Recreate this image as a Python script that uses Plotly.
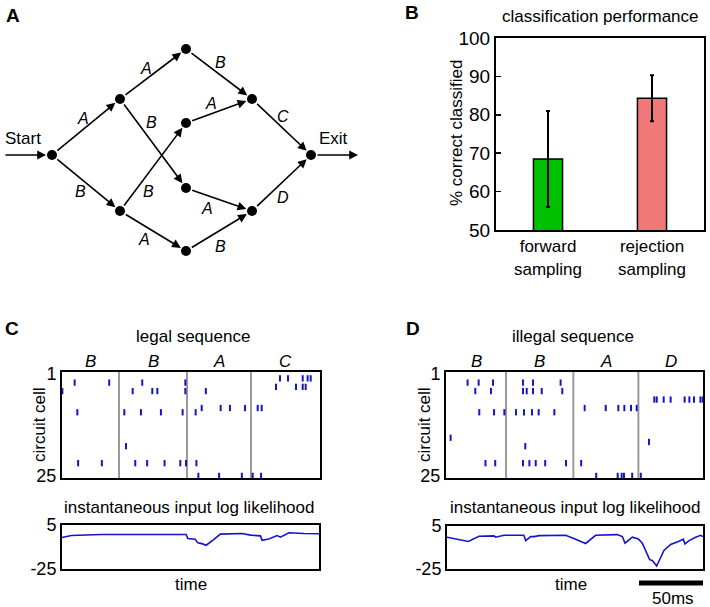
import plotly.graph_objects as go

W, H = 710, 607
FONT = "Liberation Sans, Arial, sans-serif"
BLUE = "#1414cc"

# ---------------- Panel A: state diagram ----------------
node_names = ["S", "UL", "LL", "T", "MU", "ML", "Bo", "RU", "RL", "E"]
node_x = [52, 120, 120, 186, 186, 186, 186, 252, 252, 311]
node_y = [155, 99, 211, 49, 123, 188, 251, 99, 211, 155]
edge_from = ["S", "S", "UL", "UL", "LL", "LL", "T", "MU", "ML", "Bo", "RU", "RL"]
edge_to = ["UL", "LL", "T", "ML", "MU", "Bo", "RU", "RU", "RL", "RL", "E", "E"]
edge_symbol = ["A", "B", "A", "B", "B", "A", "B", "A", "A", "B", "C", "D"]
label_x = [83, 80, 146, 151, 148, 144, 220, 211, 207, 220, 283, 283]
label_y = [118, 191, 68, 122, 191, 239, 62, 103, 208, 246, 116, 197]

# ---------------- Panel B: classification performance ----------------
methods = ["forward<br>sampling", "rejection<br>sampling"]
perf = [68.5, 84.3]
perf_err = [12.5, 6.0]
bar_colors = ["#00c000", "#f07878"]

# ---------------- Panel C: legal sequence raster (time ms, cell) ----------------
c_seq = ["B", "B", "A", "C"]
c_bounds = [0, 44.2, 96.9, 146.5, 200]
c_t = [9.8, 36.6, 62.2, 95.6,
       0.3, 54.8, 70.0, 73.9, 95.6, 111.5,
       108.3, 123.0, 130.2, 141.9, 151.7, 154.8,
       11.9, 48.3, 61.2, 76.7, 93.5, 103.6,
       49.6,
       12.5, 30.9, 56.8, 66.0, 79.5, 91.7, 96.1, 104.2,
       105.7, 121.8, 139.4, 147.8, 154.3,
       169.0, 175.2, 186.6, 190.4, 192.8,
       165.9, 181.4, 186.6, 188.9]
c_cell = [3, 3, 3, 3,
          5, 5, 5, 5, 5, 5,
          9, 9, 9, 9, 9, 9,
          10, 10, 10, 10, 10, 10,
          18,
          22, 22, 22, 22, 22, 22, 22, 22,
          25, 25, 25, 25, 25,
          2, 2, 2, 2, 2,
          4, 4, 4, 4]

# ---------------- Panel D: illegal sequence raster ----------------
d_seq = ["B", "B", "A", "D"]
d_bounds = [0, 46.7, 99.1, 149.7, 200]
d_t = [16.8, 25.4, 36.6, 59.9, 67.7, 89.2,
       22.8, 35.0, 59.9, 62.8, 67.7, 74.5, 90.5,
       25.9, 37.4, 45.4, 54.5, 60.7, 66.9, 72.1, 84.3,
       3.6,
       61.7,
       30.7, 38.3, 59.9, 64.9, 69.8, 77.2, 93.4, 105.2,
       107.9, 124.3, 134.1, 138.8, 144.0, 148.4,
       116.9, 133.6, 136.7, 138.5, 144.9, 151.6,
       158.0,
       162.1, 164.0, 169.4, 174.8, 185.7, 189.4, 193.0, 198.0, 199.8]
d_cell = [3, 3, 3, 3, 3, 3,
          5, 5, 5, 5, 5, 5, 5,
          10, 10, 10, 10, 10, 10, 10, 10,
          16,
          18,
          22, 22, 22, 22, 22, 22, 22, 22,
          9, 9, 9, 9, 9, 9,
          25, 25, 25, 25, 25, 25,
          17,
          7, 7, 7, 7, 7, 7, 7, 7, 7]

# ---------------- Log likelihood traces ----------------
c_ll_t = [0, 7.3, 30.7, 56.8, 75.0, 96.6, 97.9, 103.6, 105.7, 108.9, 112.2, 118.0,
          123.2, 140.1, 146.6, 154.4, 155.7, 160.9, 167.4, 170.0, 176.6, 188.3, 200]
c_ll = [-3.5, -2.2, -1.5, -1.7, -1.5, -1.5, -4.2, -4.7, -7.2, -7.7, -8.8, -4.9,
        -1.2, -0.8, -1.9, -2.4, -5.4, -4.5, -2.2, -3.3, -0.3, -0.8, -1.0]
d_ll_t = [0, 8.1, 16.7, 25.0, 36.7, 38.0, 44.5, 60.0, 61.5, 65.4, 68.0, 71.9, 92.7,
          100.5, 108.3, 116.1, 133.0, 137.0, 139.1, 144.8, 149.5, 152.6, 158.3, 160.4,
          163.8, 169.5, 174.7, 181.3, 184.6, 185.9, 189.1, 194.3, 198.2, 200]
d_ll = [-2.8, -4.2, -5.8, -2.2, -1.9, -2.8, -1.5, -1.5, -5.2, -2.4, -2.4, -1.7, -1.5,
        -4.2, -7.2, -1.5, -1.0, -2.4, -7.0, -2.8, -4.0, -7.0, -18.5, -19.0,
        -22.9, -12.1, -7.9, -5.6, -4.2, -7.5, -5.2, -2.9, -1.5, -2.4]
scale_ms = 50


def px(x):
    return x / W


def py(y):
    return 1 - y / H


fig = go.Figure()
annotations = []
shapes = []

# ---- Panel A ----
pos = {n: (x, y) for n, x, y in zip(node_names, node_x, node_y)}
fig.add_trace(go.Scatter(x=node_x, y=node_y, mode="markers", xaxis="x", yaxis="y",
                         marker=dict(size=10, color="black"), hoverinfo="skip"))
arrow_common = dict(xref="x", yref="y", axref="x", ayref="y", text="", showarrow=True,
                    arrowhead=2, arrowsize=1.1, arrowwidth=1.6, arrowcolor="black")
for f, t in zip(edge_from, edge_to):
    (x0, y0), (x1, y1) = pos[f], pos[t]
    annotations.append(dict(x=x1, y=y1, ax=x0, ay=y0, standoff=6, startstandoff=5, **arrow_common))
sx, sy = pos["S"]
ex, ey = pos["E"]
annotations.append(dict(x=sx, y=sy, ax=sx - 48, ay=sy, standoff=6, **arrow_common))
annotations.append(dict(x=ex + 47, y=ey, ax=ex, ay=ey, startstandoff=5, **arrow_common))
for lx, ly, s in zip(label_x, label_y, edge_symbol):
    annotations.append(dict(x=lx, y=ly, xref="x", yref="y", text="<i>%s</i>" % s, showarrow=False,
                            font=dict(size=16, family=FONT, color="black")))
annotations.append(dict(x=sx - 29, y=sy - 17, xref="x", yref="y", text="Start", showarrow=False,
                        font=dict(size=17, family=FONT)))
annotations.append(dict(x=ex + 22, y=ey - 17, xref="x", yref="y", text="Exit", showarrow=False,
                        font=dict(size=17, family=FONT)))

# ---- Panel B ----
fig.add_trace(go.Bar(x=[1, 2], y=perf, xaxis="x2", yaxis="y2", width=0.28,
                     marker=dict(color=bar_colors, line=dict(color="black", width=1.5)),
                     error_y=dict(type="data", array=perf_err, color="black", thickness=2, width=2),
                     hoverinfo="skip"))

# ---- Panel C/D rasters ----
fig.add_trace(go.Scatter(x=c_t, y=c_cell, mode="markers", xaxis="x3", yaxis="y3",
                         marker=dict(symbol="line-ns", size=4.5, line=dict(width=2, color=BLUE)),
                         hoverinfo="skip"))
fig.add_trace(go.Scatter(x=d_t, y=d_cell, mode="markers", xaxis="x5", yaxis="y5",
                         marker=dict(symbol="line-ns", size=4.5, line=dict(width=2, color=BLUE)),
                         hoverinfo="skip"))
fig.add_trace(go.Scatter(x=c_ll_t, y=c_ll, mode="lines", xaxis="x4", yaxis="y4",
                         line=dict(color=BLUE, width=1.6), hoverinfo="skip"))
fig.add_trace(go.Scatter(x=d_ll_t, y=d_ll, mode="lines", xaxis="x6", yaxis="y6",
                         line=dict(color=BLUE, width=1.6), hoverinfo="skip"))

for xa, ya, bounds, seq in [("x3", "y3", c_bounds, c_seq), ("x5", "y5", d_bounds, d_seq)]:
    for b in bounds[1:-1]:
        shapes.append(dict(type="line", xref=xa, yref=ya + " domain", x0=b, x1=b, y0=0, y1=1,
                           line=dict(color="#9a9a9a", width=2), layer="below"))
    for i, s in enumerate(seq):
        annotations.append(dict(x=(bounds[i] + bounds[i + 1]) / 2, y=1, xref=xa, yref=ya + " domain",
                                yshift=11, yanchor="middle", text="<i>%s</i>" % s, showarrow=False,
                                font=dict(size=17, family=FONT)))

# scale bar on D line plot
shapes.append(dict(type="line", xref="x6", yref="paper", x0=200 - scale_ms, x1=200,
                   y0=py(583), y1=py(583), line=dict(color="black", width=5)))

# ---- text annotations (paper) ----
def txt(x, y, s, size=17, angle=0, bold=False, xanchor="center"):
    annotations.append(dict(x=px(x), y=py(y), xref="paper", yref="paper", showarrow=False,
                            text=("<b>%s</b>" % s) if bold else s, textangle=angle,
                            xanchor=xanchor, yanchor="middle",
                            font=dict(size=size, family=FONT, color="black")))

txt(13, 15, "A", 19, bold=True)
txt(412, 13, "B", 19, bold=True)
txt(12, 328, "C", 19, bold=True)
txt(413, 328, "D", 19, bold=True)
txt(600, 17, "classification performance")
txt(456, 133, "% correct classified", angle=-90)
txt(193, 337, "legal sequence")
txt(573, 337, "illegal sequence")
txt(39, 425, "circuit cell", angle=-90)
txt(424, 425, "circuit cell", angle=-90)
txt(189, 507, "instantaneous input log likelihood")
txt(575, 507, "instantaneous input log likelihood")
txt(191, 584, "time")
txt(571, 584, "time")
txt(673, 598, "50ms")

tickfont = dict(size=18, family=FONT, color="black")
box = dict(showline=True, linecolor="black", linewidth=2, mirror=True, showgrid=False,
           zeroline=False, automargin=False)

raster_y = dict(range=[25.5, 0.5], tickvals=[1, 25], ticks="", tickfont=tickfont, **box)
raster_x = dict(range=[0, 200], showticklabels=False, ticks="", **box)
ll_y = dict(range=[-25, 5], tickvals=[5, -25], ticktext=["5", "-25"], ticks="", tickfont=tickfont, **box)
ll_x = dict(range=[0, 200], showticklabels=False, ticks="", **box)

fig.update_layout(
    template="none",
    width=W, height=H, margin=dict(l=0, r=0, t=0, b=0, pad=0, autoexpand=False),
    paper_bgcolor="white", plot_bgcolor="white", showlegend=False,
    font=dict(family=FONT, color="black"),
    xaxis=dict(domain=[0, px(360)], range=[0, 360], visible=False, automargin=False),
    yaxis=dict(domain=[py(270), 1], range=[270, 0], visible=False, automargin=False),
    xaxis2=dict(domain=[px(496), px(704)], range=[0.5, 2.5], tickvals=[1, 2], ticktext=methods,
                ticks="", tickfont=dict(size=17, family=FONT, color="black"), anchor="y2", **box),
    yaxis2=dict(domain=[py(230), py(38)], range=[50, 100], tickvals=[50, 60, 70, 80, 90, 100],
                ticks="inside", ticklen=5, tickwidth=1.5, tickcolor="black",
                tickfont=dict(size=19, family=FONT, color="black"), anchor="x2", **box),
    xaxis3=dict(domain=[px(62), px(320)], anchor="y3", **raster_x),
    yaxis3=dict(domain=[py(478), py(372)], anchor="x3", **raster_y),
    xaxis4=dict(domain=[px(62), px(319)], anchor="y4", **ll_x),
    yaxis4=dict(domain=[py(569), py(525)], anchor="x4", **ll_y),
    xaxis5=dict(domain=[px(446), px(703)], anchor="y5", **raster_x),
    yaxis5=dict(domain=[py(478), py(372)], anchor="x5", **raster_y),
    xaxis6=dict(domain=[px(447), px(703)], anchor="y6", **ll_x),
    yaxis6=dict(domain=[py(569), py(526)], anchor="x6", **ll_y),
    annotations=annotations, shapes=shapes,
)

fig.write_html("out.html", config={"displayModeBar": False, "staticPlot": True},
               post_script="document.body.style.margin='0px';")
